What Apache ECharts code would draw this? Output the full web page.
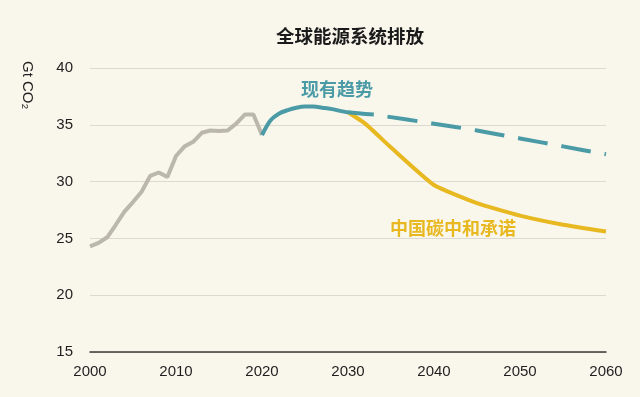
<!DOCTYPE html>
<html>
<head>
<meta charset="utf-8">
<script src="https://cdn.jsdelivr.net/npm/echarts@6/dist/echarts.min.js"></script>
<style>
  html, body { margin: 0; padding: 0; background: #f9f6ec; }
  #chart { width: 640px; height: 397px; }
</style>
</head>
<body>
<div id="chart"></div>
<script>
// 历史排放
const histYears = [2000, 2001, 2002, 2003, 2004, 2005, 2006, 2007, 2008, 2009, 2010,
  2011, 2012, 2013, 2014, 2015, 2016, 2017, 2018, 2019, 2020]
const histValues = [24.3, 24.6, 25.1, 26.2, 27.35, 28.2, 29.1, 30.5, 30.8, 30.4, 32.25,
  33.1, 33.5, 34.3, 34.5, 34.45, 34.5, 35.1, 35.9, 35.9, 34.1]
// 现有趋势 (实线部分)
const trendYears = [2020, 2021, 2022, 2023, 2024, 2025, 2026, 2027, 2028, 2030, 2033]
const trendValues = [34.1, 35.4, 36.0, 36.3, 36.5, 36.6, 36.6, 36.5, 36.4, 36.1, 35.9]
// 现有趋势 (虚线部分)
const trendDashYears = [2033, 2040, 2045, 2050, 2055, 2060]
const trendDashValues = [35.9, 35.1, 34.5, 33.8, 33.1, 32.4]
// 中国碳中和承诺
const pledgeYears = [2030, 2032, 2035, 2040, 2045, 2050, 2055, 2060]
const pledgeValues = [36.1, 35.1, 33.0, 29.7, 28.1, 27.0, 26.2, 25.6]

const yTicks = [15, 20, 25, 30, 35, 40]

const pairs = (xs, ys) => xs.map((x, i) => [x, ys[i]])

const chart = echarts.init(document.getElementById('chart'))
chart.setOption({
  backgroundColor: '#f9f6ec',
  animation: false,
  title: {
    text: '全球能源系统排放',
    left: 271,
    top: 22,
    textStyle: {
      fontFamily: 'Noto Sans CJK SC',
      fontWeight: 'bold',
      fontSize: 18.5,
      color: '#1a1a1a'
    }
  },
  grid: {
    left: 90,
    right: 34,
    top: 68,
    bottom: 45
  },
  xAxis: {
    type: 'value',
    min: 2000,
    max: 2060,
    interval: 10,
    axisLine: { lineStyle: { color: '#3a3a36', width: 1.5 } },
    axisTick: { show: false },
    splitLine: { show: false },
    axisLabel: {
      margin: 12,
      color: '#1f1f1f',
      fontFamily: 'Liberation Sans',
      fontSize: 15,
      formatter: (v) => String(v)
    }
  },
  yAxis: {
    type: 'value',
    min: yTicks[0],
    max: yTicks[yTicks.length - 1],
    interval: 5,
    axisLine: { show: false },
    axisTick: { show: false },
    axisLabel: {
      margin: 17,
      color: '#1f1f1f',
      fontFamily: 'Liberation Sans',
      fontSize: 15
    },
    splitLine: { lineStyle: { color: '#dcd9d0', width: 1 } }
  },
  graphic: [
    {
      type: 'text',
      x: 35,
      y: 61,
      rotation: -Math.PI / 2,
      style: {
        text: 'Gt CO₂',
        fill: '#1f1f1f',
        font: '15px "Liberation Sans"'
      }
    },
    {
      type: 'text',
      x: 301,
      y: 80,
      style: {
        text: '现有趋势',
        fill: '#4a9ba6',
        font: 'bold 18px "Noto Sans CJK SC"'
      }
    },
    {
      type: 'text',
      x: 390,
      y: 219,
      style: {
        text: '中国碳中和承诺',
        fill: '#e8b820',
        font: 'bold 18px "Noto Sans CJK SC"'
      }
    }
  ],
  series: [
    {
      name: '历史',
      type: 'line',
      data: pairs(histYears, histValues),
      showSymbol: false,
      lineStyle: { color: '#bcb7ad', width: 4 },
      z: 2
    },
    {
      name: '中国碳中和承诺',
      type: 'line',
      data: pairs(pledgeYears, pledgeValues),
      showSymbol: false,
      smooth: 0.15,
      lineStyle: { color: '#e8b820', width: 4 },
      z: 2
    },
    {
      name: '现有趋势',
      type: 'line',
      data: pairs(trendYears, trendValues),
      showSymbol: false,
      smooth: 0.3,
      lineStyle: { color: '#4a9ba6', width: 4 },
      z: 3
    },
    {
      name: '现有趋势虚线',
      type: 'line',
      data: pairs(trendDashYears, trendDashValues),
      showSymbol: false,
      smooth: 0.2,
      lineStyle: { color: '#4a9ba6', width: 4, type: [30, 14], dashOffset: -14 },
      z: 3
    }
  ]
})
</script>
</body>
</html>
